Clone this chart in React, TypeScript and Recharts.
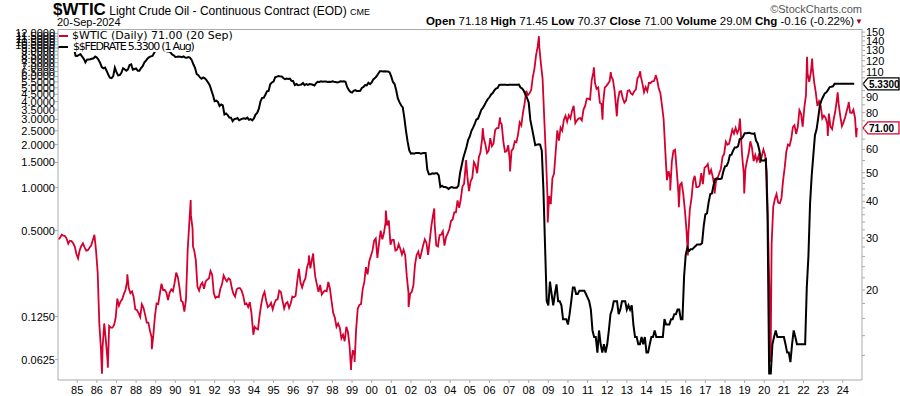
import React from 'react';
import { LineChart, Line, XAxis, YAxis, ReferenceLine } from 'recharts';

const START_YEAR = 1984;

// $$FEDRATE, monthly (1st of month), Jan 1984 .. Aug 2024
const fedRate = [
  9.56, 9.59, 9.91, 10.29, 10.32, 11.06, 11.23, 11.64, 11.30, 9.99, 9.43, 8.38,
  8.35, 8.50, 8.58, 8.27, 7.97, 7.53, 7.88, 7.90, 7.92, 7.99, 8.05, 8.27,
  8.14, 7.86, 7.48, 6.99, 6.85, 6.92, 6.56, 6.17, 5.89, 5.85, 6.04, 6.91,
  6.43, 6.10, 6.13, 6.37, 6.85, 6.73, 6.58, 6.73, 7.22, 7.29, 6.69, 6.77,
  6.83, 6.58, 6.58, 6.87, 7.09, 7.51, 7.75, 8.01, 8.19, 8.30, 8.35, 8.76,
  9.12, 9.36, 9.85, 9.84, 9.81, 9.53, 9.24, 8.99, 9.02, 8.84, 8.55, 8.45,
  8.23, 8.24, 8.28, 8.26, 8.18, 8.29, 8.15, 8.13, 8.20, 8.11, 7.81, 7.31,
  6.91, 6.25, 6.12, 5.91, 5.78, 5.90, 5.82, 5.66, 5.45, 5.21, 4.81, 4.43,
  4.03, 4.06, 3.98, 3.73, 3.82, 3.76, 3.25, 3.30, 3.22, 3.10, 3.09, 2.92,
  3.02, 3.03, 3.07, 2.96, 3.00, 3.04, 3.06, 3.03, 3.09, 2.99, 3.02, 2.96,
  3.05, 3.25, 3.34, 3.56, 4.01, 4.25, 4.26, 4.47, 4.73, 4.76, 5.29, 5.45,
  5.53, 5.92, 5.98, 6.05, 6.01, 6.00, 5.85, 5.74, 5.80, 5.76, 5.80, 5.60,
  5.56, 5.22, 5.31, 5.22, 5.24, 5.27, 5.40, 5.22, 5.30, 5.24, 5.31, 5.29,
  5.25, 5.19, 5.39, 5.51, 5.50, 5.56, 5.52, 5.54, 5.54, 5.50, 5.52, 5.50,
  5.56, 5.51, 5.49, 5.45, 5.49, 5.56, 5.54, 5.55, 5.51, 5.07, 4.83, 4.68,
  4.63, 4.76, 4.81, 4.74, 4.74, 4.76, 4.99, 5.07, 5.22, 5.20, 5.42, 5.30,
  5.45, 5.73, 5.85, 6.02, 6.27, 6.53, 6.54, 6.50, 6.52, 6.51, 6.51, 6.40,
  5.98, 5.49, 5.31, 4.80, 4.21, 3.97, 3.77, 3.65, 3.07, 2.49, 2.09, 1.82,
  1.73, 1.74, 1.73, 1.75, 1.75, 1.75, 1.73, 1.74, 1.75, 1.75, 1.34, 1.24,
  1.24, 1.26, 1.25, 1.26, 1.26, 1.22, 1.01, 1.03, 1.01, 1.01, 1.00, 0.98,
  1.00, 1.01, 1.00, 1.00, 1.00, 1.03, 1.26, 1.43, 1.61, 1.76, 1.93, 2.16,
  2.28, 2.50, 2.63, 2.79, 3.00, 3.04, 3.26, 3.50, 3.62, 3.78, 4.00, 4.16,
  4.29, 4.49, 4.59, 4.79, 4.94, 4.99, 5.24, 5.25, 5.25, 5.25, 5.25, 5.24,
  5.25, 5.26, 5.26, 5.25, 5.25, 5.25, 5.26, 5.02, 4.94, 4.76, 4.49, 4.24,
  3.94, 2.98, 2.61, 2.28, 1.98, 2.00, 2.01, 2.00, 1.81, 0.97, 0.39, 0.16,
  0.15, 0.22, 0.18, 0.15, 0.18, 0.21, 0.16, 0.16, 0.15, 0.12, 0.12, 0.12,
  0.11, 0.13, 0.16, 0.20, 0.20, 0.18, 0.18, 0.19, 0.19, 0.19, 0.19, 0.18,
  0.17, 0.16, 0.14, 0.10, 0.09, 0.09, 0.07, 0.10, 0.08, 0.07, 0.08, 0.07,
  0.08, 0.10, 0.13, 0.14, 0.16, 0.16, 0.16, 0.13, 0.14, 0.16, 0.16, 0.16,
  0.14, 0.15, 0.14, 0.15, 0.11, 0.09, 0.09, 0.08, 0.08, 0.09, 0.08, 0.09,
  0.07, 0.07, 0.08, 0.09, 0.09, 0.10, 0.09, 0.09, 0.09, 0.09, 0.09, 0.12,
  0.11, 0.11, 0.11, 0.12, 0.12, 0.13, 0.13, 0.14, 0.14, 0.12, 0.12, 0.24,
  0.34, 0.38, 0.36, 0.37, 0.37, 0.38, 0.39, 0.40, 0.40, 0.40, 0.41, 0.54,
  0.65, 0.66, 0.79, 0.90, 0.91, 1.04, 1.15, 1.16, 1.15, 1.15, 1.16, 1.30,
  1.41, 1.42, 1.51, 1.69, 1.70, 1.82, 1.91, 1.91, 1.95, 2.19, 2.20, 2.27,
  2.40, 2.40, 2.41, 2.42, 2.39, 2.38, 2.40, 2.13, 2.04, 1.83, 1.55, 1.55,
  1.55, 1.58, 0.65, 0.05, 0.05, 0.08, 0.09, 0.10, 0.09, 0.09, 0.09, 0.09,
  0.09, 0.08, 0.07, 0.07, 0.06, 0.08, 0.10, 0.09, 0.08, 0.08, 0.08, 0.08,
  0.08, 0.08, 0.20, 0.33, 0.77, 1.21, 1.68, 2.33, 2.56, 3.08, 3.78, 4.10,
  4.33, 4.57, 4.65, 4.83, 5.06, 5.08, 5.12, 5.33, 5.33, 5.33, 5.33, 5.33,
  5.33, 5.33, 5.33, 5.33, 5.33, 5.33, 5.33, 5.33,
];

// $WTIC, monthly (mid-month), Jan 1984 .. Aug 2024
const wticMonthly = [
  29.7, 30.1, 30.8, 30.6, 30.5, 29.9, 28.7, 29.4, 29.3, 28.8, 28.1, 26.5,
  25.6, 27.3, 28.2, 28.8, 27.9, 27.2, 27.3, 27.8, 28.3, 29.5, 30.8, 27.2,
  22.9, 15.4, 12.6, 12.8, 15.4, 13.5, 11.6, 15.1, 14.9, 14.9, 15.2, 16.1,
  18.7, 17.7, 18.3, 18.6, 19.4, 20.0, 21.4, 20.3, 19.5, 19.8, 18.9, 17.2,
  17.1, 16.7, 16.2, 17.9, 17.4, 16.5, 15.5, 15.5, 14.5, 13.8, 14.0, 16.3,
  18.0, 17.9, 19.4, 21.0, 20.0, 20.0, 19.6, 18.5, 19.6, 20.1, 19.8, 21.1,
  22.9, 22.1, 20.4, 18.4, 18.2, 16.9, 18.6, 27.2, 33.7, 35.9, 32.3, 27.3,
  25.2, 20.5, 19.9, 20.8, 21.2, 20.2, 21.4, 21.7, 21.9, 23.2, 22.5, 19.5,
  18.8, 19.0, 18.9, 20.2, 20.9, 22.4, 21.8, 21.4, 21.9, 21.7, 20.3, 19.4,
  19.0, 20.1, 20.3, 20.3, 19.9, 19.1, 17.9, 18.0, 17.5, 18.2, 16.7, 14.5,
  15.0, 14.8, 14.7, 16.4, 17.9, 19.1, 19.7, 18.4, 17.5, 17.7, 18.1, 17.2,
  18.0, 18.5, 18.6, 19.9, 19.7, 18.4, 17.3, 18.0, 18.2, 17.4, 18.0, 19.0,
  18.9, 19.1, 21.4, 23.6, 21.2, 20.4, 21.3, 21.9, 23.9, 24.9, 23.7, 25.4,
  25.2, 22.2, 20.9, 19.7, 20.8, 19.3, 19.7, 19.9, 19.8, 21.3, 20.2, 18.3,
  16.7, 16.1, 15.0, 15.4, 14.9, 13.7, 14.1, 13.4, 15.0, 14.4, 12.9, 11.3,
  12.5, 12.0, 14.7, 17.3, 17.8, 17.9, 20.1, 21.3, 23.9, 22.6, 25.0, 26.1,
  27.2, 29.4, 29.9, 25.7, 28.8, 31.8, 29.7, 31.2, 33.9, 33.1, 34.4, 28.5,
  29.6, 29.6, 27.2, 27.4, 28.6, 27.6, 26.4, 27.4, 26.2, 22.2, 19.6, 19.4,
  19.7, 20.7, 24.4, 26.3, 27.0, 25.5, 26.9, 28.4, 29.7, 28.9, 26.3, 29.4,
  33.0, 35.9, 33.5, 28.3, 28.1, 30.7, 30.8, 31.6, 28.3, 30.3, 31.1, 32.2,
  34.3, 34.7, 36.7, 36.7, 40.3, 38.0, 40.8, 44.9, 45.9, 53.1, 48.5, 43.3,
  46.8, 48.0, 54.3, 53.0, 49.8, 56.3, 58.7, 65.0, 65.6, 62.4, 58.3, 59.4,
  65.5, 61.6, 62.9, 69.7, 70.9, 70.9, 74.4, 73.0, 63.8, 58.9, 59.1, 62.0,
  54.5, 59.3, 60.4, 63.9, 63.5, 67.5, 74.1, 72.4, 79.9, 85.8, 94.8, 91.7,
  93.0, 95.4, 105.5, 112.6, 125.4, 133.9, 133.4, 116.7, 104.1, 76.6, 57.3, 41.1,
  41.7, 39.1, 47.9, 49.7, 59.0, 69.6, 64.2, 71.1, 69.4, 75.7, 78.0, 74.5,
  78.3, 76.4, 81.2, 84.3, 73.7, 75.3, 76.3, 76.6, 75.2, 81.9, 84.3, 89.2,
  89.2, 88.6, 102.9, 109.5, 100.9, 96.3, 97.3, 86.3, 85.5, 86.3, 97.2, 98.6,
  100.3, 102.2, 106.2, 103.3, 94.7, 82.3, 87.9, 94.1, 94.5, 89.5, 86.5, 87.9,
  94.8, 95.3, 92.9, 92.0, 94.5, 95.8, 104.6, 106.6, 106.3, 100.5, 93.9, 97.6,
  94.6, 100.8, 100.8, 102.1, 102.2, 105.8, 103.6, 96.5, 93.2, 84.4, 75.8, 59.3,
  47.2, 50.6, 47.8, 54.5, 59.3, 59.8, 50.9, 42.9, 45.5, 46.2, 42.4, 37.2,
  31.7, 30.3, 37.5, 40.8, 46.7, 48.8, 44.7, 44.7, 45.2, 49.8, 45.7, 52.0,
  52.5, 53.5, 49.3, 51.1, 48.5, 45.2, 46.6, 48.0, 49.8, 51.6, 56.6, 57.9,
  63.7, 62.2, 62.7, 66.3, 70.0, 67.9, 71.0, 68.1, 70.2, 70.8, 57.0, 49.5,
  51.4, 55.0, 58.2, 63.9, 60.8, 54.7, 57.4, 54.8, 57.0, 54.0, 57.0, 59.9,
  57.5, 50.5, 29.2, 16.6, 28.6, 38.3, 40.7, 42.3, 39.6, 39.4, 40.9, 47.0,
  52.0, 59.0, 62.3, 61.7, 65.2, 71.4, 72.5, 67.7, 71.6, 81.5, 79.2, 71.7,
  83.2, 91.6, 108.5, 101.8, 109.6, 114.8, 101.6, 93.7, 84.3, 87.3, 84.4, 76.4,
  78.1, 76.8, 73.3, 79.4, 71.6, 70.3, 76.1, 81.4, 89.4, 85.6, 77.7, 71.9,
  74.2, 77.3, 81.3, 85.4, 80.0, 79.8, 81.8, 76.7,
];

// daily extremes: [year, price]
const wticSpikes: [number, number][] = [
  [1986.26, 10.4], [1986.56, 10.9], [1987.55, 22.6], [1988.80, 12.6],
  [1990.78, 40.4], [1990.90, 28.0], [1993.97, 14.1], [1996.80, 26.2],
  [1997.02, 26.6], [1998.95, 10.7], [1999.13, 11.4], [2000.72, 37.2],
  [2001.88, 17.5], [2003.19, 37.8], [2004.81, 55.2], [2005.66, 70.8],
  [2006.54, 77.0], [2007.05, 50.5], [2008.52, 145.3], [2008.97, 33.9],
  [2011.32, 113.9], [2011.76, 75.7], [2012.18, 109.8], [2012.49, 77.7],
  [2013.68, 110.5], [2014.47, 107.3], [2015.21, 43.5], [2015.65, 38.2],
  [2016.11, 26.2], [2017.47, 42.5], [2018.76, 76.4], [2018.98, 42.5],
  [2020.30, 11.4], [2020.33, 12.5], [2022.18, 123.7], [2022.44, 122.1],
  [2023.24, 66.7], [2023.74, 93.7], [2024.30, 86.9], [2024.69, 66.0],
  [2024.72, 71.0],
];

const yearLabels = [
  '85', '86', '87', '88', '89', '90', '91', '92', '93', '94',
  '95', '96', '97', '98', '99', '00', '01', '02', '03', '04',
  '05', '06', '07', '08', '09', '10', '11', '12', '13', '14',
  '15', '16', '17', '18', '19', '20', '21', '22', '23', '24',
];

const fedTicks = [
  0.0625, 0.125, 0.5, 1, 1.5, 2, 2.5, 3, 3.5, 4, 4.5, 5, 5.5, 6, 6.5, 7,
  7.5, 8, 8.5, 9, 9.5, 10, 10.5, 11, 11.5, 12,
];
// 70 and 100 sit under the last-value tags, so they carry no label
const wticLabelled = [20, 30, 40, 50, 60, 80, 90, 110, 120, 130, 140, 150];
const wticUnlabelled = [
  12, 14, 16, 18, 22, 24, 26, 28, 32, 34, 36, 38, 42, 44, 46, 48,
  55, 65, 70, 75, 85, 95, 100, 105, 115, 125, 135, 145,
];

const RED = '#d4002f';
const FONT = '"Liberation Sans", Arial, sans-serif';

const fedData = fedRate.map((v, i) => ({ t: START_YEAR + i / 12, fed: v }));
const wticData = [
  ...wticMonthly.map((v, i) => ({ t: START_YEAR + (i + 0.5) / 12, wtic: v })),
  ...wticSpikes.map(([t, v]) => ({ t, wtic: v })),
].sort((a, b) => a.t - b.t);
const yearTicks = yearLabels.map((_, i) => 1985 + i);

function FedTick({ x, y, payload }: any) {
  return (
    <text x={x} y={y} dy={4} textAnchor="end" fontSize={11} fontFamily={FONT} fill="#000">
      {payload.value.toFixed(4)}
    </text>
  );
}

function WticTick({ x, y, payload }: any) {
  if (!wticLabelled.includes(payload.value)) return <g />;
  return (
    <text x={x} y={y} dy={4} textAnchor="start" fontSize={11} fontFamily={FONT} fill="#000">
      {payload.value}
    </text>
  );
}

function YearTick({ x, y, payload }: any) {
  return (
    <text x={x} y={y} dy={9} textAnchor="middle" fontSize={11} fontFamily={FONT} fill="#000">
      {yearLabels[payload.value - 1985]}
    </text>
  );
}

function Badge({ viewBox, text, color }: any) {
  const y = viewBox.y;
  const x0 = viewBox.x + viewBox.width;
  const pts = `${x0 + 1},${y} ${x0 + 6},${y - 6} ${x0 + 37},${y - 6} ${x0 + 37},${y + 6} ${x0 + 6},${y + 6}`;
  return (
    <g>
      <polygon points={pts} fill="#fff" stroke={color} strokeWidth={1.3} />
      <text x={x0 + 7} y={y + 4} fontSize={10} fontWeight="bold" fontFamily={FONT} fill="#000">
        {text}
      </text>
    </g>
  );
}

export default function App() {
  return (
    <div style={{ position: 'fixed', left: 0, top: 0, width: 900, height: 396, background: '#fff', fontFamily: FONT }}>
      <LineChart width={900} height={396} margin={{ top: 29, right: 0, bottom: 0, left: 0 }}>
        <XAxis
          dataKey="t"
          type="number"
          domain={[1984.02, 2024.98]}
          allowDataOverflow
          ticks={yearTicks}
          interval={0}
          tickSize={3}
          height={16}
          stroke="#aaa"
          tick={<YearTick />}
        />
        <YAxis
          yAxisId="left"
          orientation="left"
          scale="log"
          domain={[0.045, 12.9]}
          allowDataOverflow
          ticks={fedTicks}
          interval={0}
          width={58}
          tickSize={3}
          tickMargin={0}
          stroke="#aaa"
          tick={<FedTick />}
        />
        <YAxis
          yAxisId="right"
          orientation="right"
          scale="log"
          domain={[9.9, 153.7]}
          allowDataOverflow
          ticks={[...wticUnlabelled, ...wticLabelled].sort((a, b) => a - b)}
          interval={0}
          width={38}
          tickSize={3}
          tickMargin={1}
          stroke="#aaa"
          tick={<WticTick />}
        />
        <Line
          yAxisId="right"
          data={wticData}
          dataKey="wtic"
          stroke={RED}
          strokeWidth={1.8}
          dot={false}
          isAnimationActive={false}
        />
        <Line
          yAxisId="left"
          data={fedData}
          dataKey="fed"
          type="linear"
          stroke="#000"
          strokeWidth={2}
          dot={false}
          isAnimationActive={false}
        />
        <ReferenceLine
          yAxisId="left"
          y={5.33}
          stroke="none"
          label={(p: any) => <Badge {...p} text="5.3300" color="#000" />}
        />
        <ReferenceLine
          yAxisId="right"
          y={71}
          stroke="none"
          label={(p: any) => <Badge {...p} text="71.00" color={RED} />}
        />
      </LineChart>

      {/* plot frame top edge */}
      <div style={{ position: 'absolute', left: 58, top: 29, width: 804, height: 0, borderTop: '1px solid #aaa' }} />

      {/* header */}
      <div style={{ position: 'absolute', left: 53, top: 0, whiteSpace: 'nowrap', color: '#000' }}>
        <span style={{ fontSize: 17, fontWeight: 'bold' }}>$WTIC</span>
        <span style={{ fontSize: 12 }}> Light Crude Oil - Continuous Contract (EOD) </span>
        <span style={{ fontSize: 9 }}>CME</span>
      </div>
      <div style={{ position: 'absolute', left: 57, top: 16, fontSize: 11 }}>20-Sep-2024</div>
      <div style={{ position: 'absolute', right: 38, top: 3, fontSize: 11, color: '#555' }}>©StockCharts.com</div>
      <div style={{ position: 'absolute', right: 46, top: 15, fontSize: 11.5, whiteSpace: 'nowrap' }}>
        <b>Open</b> 71.18 <b>High</b> 71.45 <b>Low</b> 70.37 <b>Close</b> 71.00 <b>Volume</b> 29.0M <b>Chg</b> -0.16 (-0.22%)
      </div>
      <div style={{ position: 'absolute', left: 855, top: 17, fontSize: 8, color: '#a00020' }}>▼</div>

      {/* legend */}
      <div style={{ position: 'absolute', left: 59, top: 30, fontFamily: '"DejaVu Sans", Verdana, sans-serif', fontSize: 11, lineHeight: '11px' }}>
        <div style={{ background: '#fff', display: 'inline-block', paddingRight: 2 }}>
          <span style={{ display: 'inline-block', width: 9, height: 2, background: RED, verticalAlign: 'middle', marginRight: 4 }} />
          $WTIC (Daily) 71.00 (20 Sep)
        </div>
        <br />
        <div style={{ background: '#fff', display: 'inline-block', paddingRight: 2, letterSpacing: -1.2 }}>
          <span style={{ display: 'inline-block', width: 9, height: 2, background: '#000', verticalAlign: 'middle', marginRight: 5 }} />
          $$FEDRATE 5.3300 (1 Aug)
        </div>
      </div>
    </div>
  );
}
